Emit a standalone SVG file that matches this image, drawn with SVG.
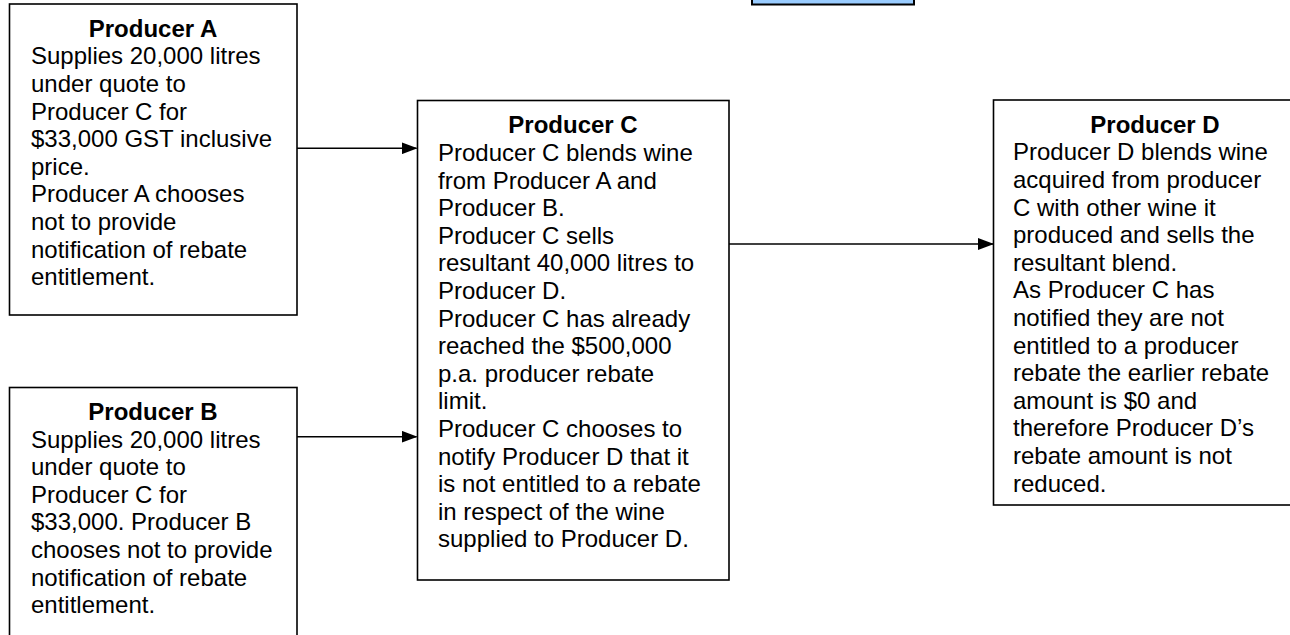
<svg xmlns="http://www.w3.org/2000/svg" width="1290" height="635" viewBox="0 0 1290 635">
<style>
.box{fill:#fff;stroke:#000;stroke-width:1.6}
.t{font-family:"Liberation Sans",Arial,sans-serif;font-size:24px;fill:#000}
.h{font-weight:bold;text-anchor:middle}
.c{stroke:#000;stroke-width:1.6;fill:none}
</style>
<defs>
<marker id="ah" markerWidth="16" markerHeight="12" refX="15" refY="6" orient="auto" markerUnits="userSpaceOnUse">
<path d="M0,0 L16,6 L0,12 z" fill="#000"/>
</marker>
</defs>
<rect x="752" y="-20" width="162" height="24.5" fill="#99ccff" stroke="#000" stroke-width="2"/>
<g id="producerA">
<rect class="box" x="9.5" y="4" width="287.5" height="311"/>
<text class="t h" x="153" y="36.7">Producer A</text>
<text class="t" x="31">
<tspan x="31" y="64.3">Supplies 20,000 litres</tspan>
<tspan x="31" y="91.9">under quote to</tspan>
<tspan x="31" y="119.5">Producer C for</tspan>
<tspan x="31" y="147.1">$33,000 GST inclusive</tspan>
<tspan x="31" y="174.7">price.</tspan>
<tspan x="31" y="202.3">Producer A chooses</tspan>
<tspan x="31" y="229.9">not to provide</tspan>
<tspan x="31" y="257.5">notification of rebate</tspan>
<tspan x="31" y="285.1">entitlement.</tspan>
</text>
</g>
<g id="producerB">
<rect class="box" x="9.5" y="387.5" width="287.5" height="270"/>
<text class="t h" x="153" y="420">Producer B</text>
<text class="t" x="31">
<tspan x="31" y="447.6">Supplies 20,000 litres</tspan>
<tspan x="31" y="475.2">under quote to</tspan>
<tspan x="31" y="502.8">Producer C for</tspan>
<tspan x="31" y="530.4">$33,000. Producer B</tspan>
<tspan x="31" y="558">chooses not to provide</tspan>
<tspan x="31" y="585.6">notification of rebate</tspan>
<tspan x="31" y="613.2">entitlement.</tspan>
</text>
</g>
<g id="producerC">
<rect class="box" x="417.5" y="100.5" width="311.5" height="479.5"/>
<text class="t h" x="573" y="133.4">Producer C</text>
<text class="t" x="438">
<tspan x="438" y="161">Producer C blends wine</tspan>
<tspan x="438" y="188.6">from Producer A and</tspan>
<tspan x="438" y="216.2">Producer B.</tspan>
<tspan x="438" y="243.8">Producer C sells</tspan>
<tspan x="438" y="271.4">resultant 40,000 litres to</tspan>
<tspan x="438" y="299">Producer D.</tspan>
<tspan x="438" y="326.6">Producer C has already</tspan>
<tspan x="438" y="354.2">reached the $500,000</tspan>
<tspan x="438" y="381.8">p.a. producer rebate</tspan>
<tspan x="438" y="409.4">limit.</tspan>
<tspan x="438" y="437">Producer C chooses to</tspan>
<tspan x="438" y="464.6">notify Producer D that it</tspan>
<tspan x="438" y="492.2">is not entitled to a rebate</tspan>
<tspan x="438" y="519.8">in respect of the wine</tspan>
<tspan x="438" y="547.4">supplied to Producer D.</tspan>
</text>
</g>
<g id="producerD">
<rect class="box" x="993.5" y="100" width="323.5" height="405"/>
<text class="t h" x="1155" y="132.7">Producer D</text>
<text class="t" x="1013">
<tspan x="1013" y="160.3">Producer D blends wine</tspan>
<tspan x="1013" y="187.9">acquired from producer</tspan>
<tspan x="1013" y="215.5">C with other wine it</tspan>
<tspan x="1013" y="243.1">produced and sells the</tspan>
<tspan x="1013" y="270.7">resultant blend.</tspan>
<tspan x="1013" y="298.3">As Producer C has</tspan>
<tspan x="1013" y="325.9">notified they are not</tspan>
<tspan x="1013" y="353.5">entitled to a producer</tspan>
<tspan x="1013" y="381.1">rebate the earlier rebate</tspan>
<tspan x="1013" y="408.7">amount is $0 and</tspan>
<tspan x="1013" y="436.3">therefore Producer D’s</tspan>
<tspan x="1013" y="463.9">rebate amount is not</tspan>
<tspan x="1013" y="491.5">reduced.</tspan>
</text>
</g>
<g id="connectors">
<line class="c" x1="297" y1="148.3" x2="416.5" y2="148.3" marker-end="url(#ah)"/>
<line class="c" x1="297" y1="436.7" x2="416.5" y2="436.7" marker-end="url(#ah)"/>
<line class="c" x1="729" y1="244" x2="993" y2="244" marker-end="url(#ah)"/>
</g>
</svg>
